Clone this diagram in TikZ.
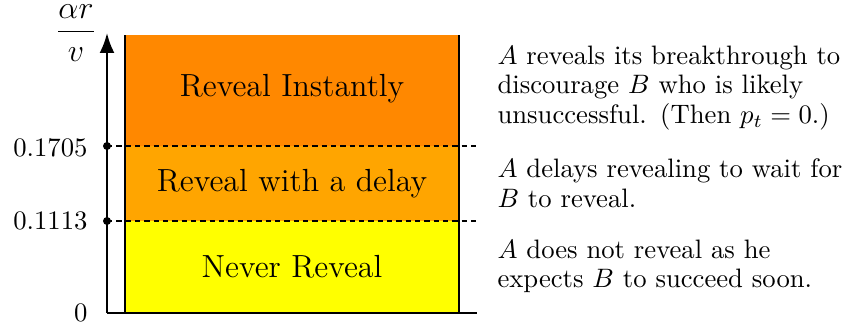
\documentclass[tikz,border=0pt]{standalone}
\usetikzlibrary{arrows.meta}
\definecolor{topc}{RGB}{255,136,0}
\definecolor{midc}{RGB}{255,165,0}
\definecolor{botc}{RGB}{255,255,0}
\begin{document}
\begin{tikzpicture}[x=0.375pt,y=-0.375pt,
  axisline/.style={line width=0.83pt},
  boxside/.style={line width=0.9pt},
  level/.style={line width=0.75pt, dash pattern=on 2pt off 1.5pt},
  tick/.style={anchor=base east, inner sep=0pt, font=\normalsize},
  region/.style={anchor=base, inner sep=0pt, font=\large},
  note/.style={anchor=north west, inner sep=0pt, align=left, text width=140pt, font=\fontsize{10}{11}\selectfont},
  dot/.style={circle, fill=black, inner sep=0pt, minimum size=3pt}]
\useasboundingbox (0,0) rectangle (857,329);
% coordinates
\coordinate (o) at (107,313);
\coordinate (ytop) at (107,33);
\coordinate (xend) at (477,313);
\coordinate (bl) at (125,313);
\coordinate (br) at (459,313);
\coordinate (tl) at (125,35);
\coordinate (tr) at (459,35);
\coordinate (h1l) at (107,146);
\coordinate (h1r) at (477,146);
\coordinate (h2l) at (107,221);
\coordinate (h2r) at (477,221);
% fills
\fill[topc] (125,35) rectangle (459,146);
\fill[midc] (125,146) rectangle (459,221);
\fill[botc] (125,221) rectangle (459,313);
% box sides
\draw[boxside] (bl) -- (tl);
\draw[boxside] (br) -- (tr);
% levels
\draw[level] (h1l) -- (h1r);
\draw[level] (h2l) -- (h2r);
% axes
\draw[axisline, -{Latex[length=7.5pt,width=5.6pt]}] (o) -- (ytop);
\draw[axisline] (o) -- (xend);
\node[dot] (d1) at (h1l) {};
\node[dot] (d2) at (h2l) {};
% labels
\node[inner sep=0pt] (frac) at (76,33) {\large$\displaystyle\frac{\alpha r}{v}$};
\node[tick] (t1) at (88,157) {0.1705};
\node[tick] (t2) at (88,230) {0.1113};
\node[tick] (t0) at (88,322) {0};
\node[region] (r1) at (292,97) {Reveal Instantly};
\node[region] (r2) at (292,191.5) {Reveal with a delay};
\node[region] (r3) at (292,278) {Never Reveal};
\node[note] (n1) at (497,45.5) {$A$ reveals its breakthrough to\\ discourage $B$ who is likely\\ unsuccessful. (Then $p_t=0$.)};
\node[note] (n2) at (497,158.5) {$A$ delays revealing to wait for\\ $B$ to reveal.};
\node[note] (n3) at (497,239.5) {$A$ does not reveal as he\\ expects $B$ to succeed soon.};
\end{tikzpicture}
\end{document}
